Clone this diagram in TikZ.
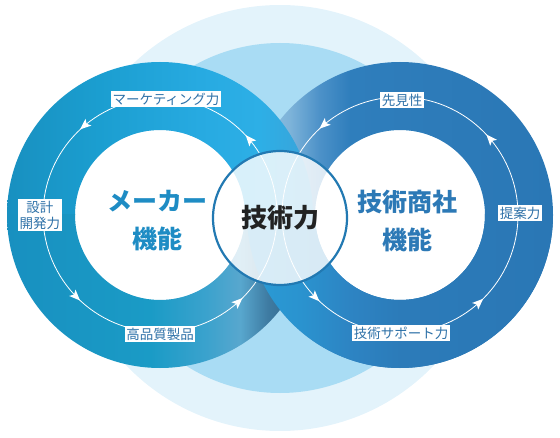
\documentclass[tikz,border=0pt]{standalone}
\usepackage{fontspec}
\setmainfont{Noto Sans CJK JP}
\usetikzlibrary{positioning,arrows.meta,decorations.markings}

\definecolor{paleBg}{HTML}{E3F3FB}
\definecolor{lightBg}{HTML}{A9DCF4}
\definecolor{tagText}{HTML}{2E71A8}
\definecolor{leftTxt}{HTML}{1E8CC4}
\definecolor{rightTxt}{HTML}{2C79B6}
\definecolor{coreLine}{HTML}{2279B2}
\definecolor{coreTxt}{HTML}{222222}
% left ring
\definecolor{lA}{HTML}{1890C0}
\definecolor{lB}{HTML}{1B9ED0}
\definecolor{lC}{HTML}{27AAE1}
\definecolor{lD}{HTML}{2DAFE6}
\definecolor{lE}{HTML}{3BA2D8}
\definecolor{lF}{HTML}{1A9BC6}
\definecolor{lG}{HTML}{3AA2CD}
\definecolor{lH}{HTML}{58A7CE}
\definecolor{lI}{HTML}{3E7BA2}
\definecolor{lJ}{HTML}{2B5A7C}
% right ring
\definecolor{rA}{HTML}{9DC9E7}
\definecolor{rB}{HTML}{7DB3D9}
\definecolor{rC}{HTML}{4C91C8}
\definecolor{rD}{HTML}{2F7EBC}
\definecolor{rE}{HTML}{2A77B5}
\definecolor{rF}{HTML}{2A9CD6}
\definecolor{rG}{HTML}{2A93CF}
\definecolor{rH}{HTML}{2D84C3}
\definecolor{rI}{HTML}{2C7BB9}

\pgfdeclarehorizontalshading{leftTop}{100bp}{color(0bp)=(lA); color(25bp)=(lA);
  color(40bp)=(lB); color(56.5bp)=(lC); color(66.3bp)=(lD); color(75bp)=(lE); color(100bp)=(lE)}
\pgfdeclarehorizontalshading{leftBot}{100bp}{color(0bp)=(lA); color(25bp)=(lA);
  color(48.4bp)=(lF); color(57.4bp)=(lG); color(63.1bp)=(lH); color(67.6bp)=(lI); color(75bp)=(lJ); color(100bp)=(lJ)}
\pgfdeclarehorizontalshading{rightTop}{100bp}{color(0bp)=(rA); color(25bp)=(rA);
  color(32bp)=(rB); color(36.9bp)=(rC); color(41.8bp)=(rD); color(75bp)=(rE); color(100bp)=(rE)}
\pgfdeclarehorizontalshading{rightBot}{100bp}{color(0bp)=(rF); color(25bp)=(rF);
  color(33.7bp)=(rG); color(41.8bp)=(rH); color(50bp)=(rI); color(75bp)=(rE); color(100bp)=(rE)}

\newcommand{\flowtip}{\fill[white] (4pt,0) -- (-7pt,4.5pt) -- (-4.5pt,0) -- (-7pt,-4.5pt) -- cycle;}

\begin{document}
\begin{tikzpicture}[x=1pt,y=1pt,
  tag/.style={fill=white,inner sep=1.6pt,text=tagText,font=\fontsize{13.5}{16}\selectfont},
  ttl/.style={align=center,font=\fontsize{25}{38}\selectfont\bfseries},
  flow/.style={white,line width=0.8pt,postaction={decorate},
    decoration={markings,
      mark=at position 0.114 with {\flowtip},
      mark=at position 0.364 with {\flowtip},
      mark=at position 0.625 with {\flowtip},
      mark=at position 0.869 with {\flowtip}}}]
  \useasboundingbox (0,0) rectangle (560,437);
  \coordinate (lc) at (160,222);
  \coordinate (rc) at (400,222);
  \coordinate (mid) at (280,219);

  \fill[paleBg] (mid) circle (213pt);
  \fill[lightBg] (mid) circle (175pt);
  \fill[white] (lc) circle (85pt) (rc) circle (85pt);

  \shade[shading=rightTop,even odd rule] (rc) circle (153pt) (rc) circle (85pt);
  \begin{scope}
    \clip (0,222) rectangle (560,437);
    \shade[shading=leftTop,even odd rule] (lc) circle (153pt) (lc) circle (85pt);
  \end{scope}
  \begin{scope}
    \clip (0,0) rectangle (560,222);
    \shade[shading=leftBot,even odd rule] (lc) circle (153pt) (lc) circle (85pt);
    \shade[shading=rightBot,even odd rule] (rc) circle (153pt) (rc) circle (85pt);
  \end{scope}

  \draw[flow] (lc) circle (117pt);
  \draw[flow] (rc) circle (118pt);

  \node[circle,minimum size=134pt,draw=coreLine,line width=2.2pt,fill=white,
    fill opacity=0.82,text opacity=1,text=coreTxt,
    font=\fontsize{26}{30}\selectfont\bfseries] (core) at (280,219) {技術力};

  \node[ttl,text=leftTxt] (maker) at (157,216) {メーカー\\機能};
  \node[ttl,text=rightTxt] (trade) at (407,216) {技術商社\\機能};

  \node[tag] (mkt) at (166,338) {マーケティング力};
  \node[tag,align=center] (dev) at (40,222) {設計\\開発力};
  \node[tag] (qual) at (160,103) {高品質製品};
  \node[tag] (fore) at (402,337) {先見性};
  \node[tag] (prop) at (520,224) {提案力};
  \node[tag] (supp) at (401,104) {技術サポート力};
\end{tikzpicture}
\end{document}
